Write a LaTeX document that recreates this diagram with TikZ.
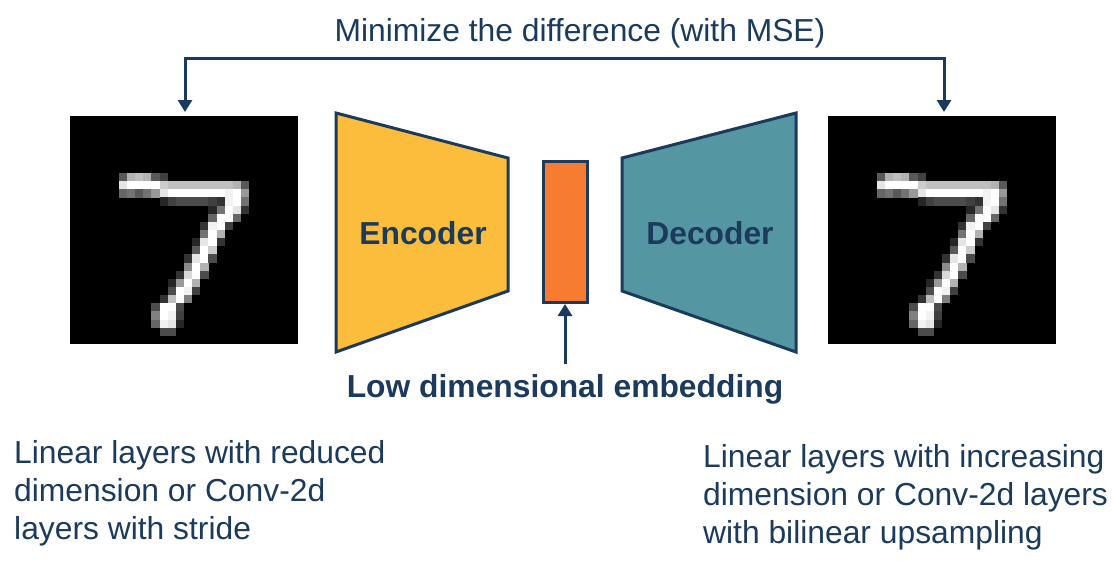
\documentclass[tikz,border=0pt]{standalone}
\usepackage{fontspec}
\setmainfont{Liberation Sans}
\usetikzlibrary{arrows.meta}
\definecolor{navy}{HTML}{1B3A5C}
\definecolor{enc}{HTML}{FBBD3B}
\definecolor{emb}{HTML}{F77B30}
\definecolor{dec}{HTML}{5596A3}
\newcommand{\mnistseven}{%
\fill[black] (0,0) rectangle (228,228);
\foreach \r/\c/\g in {7/6/35,7/7/70,7/8/75,7/9/70,7/10/35,7/11/25,
8/6/90,8/7/100,8/8/100,8/9/100,8/10/100,8/11/80,8/12/75,8/13/75,8/14/75,8/15/75,8/16/75,8/17/75,8/18/75,8/19/75,8/20/70,8/21/35,
9/6/40,9/7/45,9/8/35,9/9/45,9/10/60,9/11/90,9/12/100,9/13/100,9/14/100,9/15/100,9/16/100,9/17/100,9/18/100,9/19/95,9/20/100,9/21/60,
10/11/15,10/12/25,10/13/30,10/14/30,10/15/30,10/16/30,10/17/25,10/18/20,10/19/95,10/20/100,10/21/45,
11/17/15,11/18/45,11/19/100,11/20/90,11/21/20,
12/17/40,12/18/100,12/19/100,12/20/40,
13/16/20,13/17/95,13/18/100,13/19/25,
14/16/45,14/17/100,14/18/70,
15/15/15,15/16/90,15/17/100,15/18/20,
16/15/35,16/16/100,16/17/80,
17/14/20,17/15/90,17/16/100,17/17/30,
18/14/55,18/15/100,18/16/70,
19/13/20,19/14/85,19/15/100,19/16/30,
20/12/15,20/13/60,20/14/100,20/15/70,
21/12/30,21/13/100,21/14/95,21/15/25,
22/11/20,22/12/75,22/13/100,22/14/50,
23/10/30,23/11/100,23/12/100,23/13/30,
24/10/50,24/11/100,24/12/95,24/13/25,
25/10/40,25/11/95,25/12/90,25/13/15,
26/11/30,26/12/30}
{\fill[white!\g!black] (\c*8.14,\r*8.14) rectangle ++(8.3,8.3);}
}
\begin{document}
\begin{tikzpicture}[x=1pt,y=-1pt,
  txt/.style={text=navy,font=\fontsize{31.8}{38}\selectfont,inner sep=0},
  btxt/.style={text=navy,font=\fontsize{31.8}{36}\selectfont\bfseries,inner sep=0},
  shp/.style={draw=navy,line width=3pt,line join=miter},
  arr/.style={draw=navy,line width=3pt,-{Triangle[length=12pt,width=14pt]}}]
\useasboundingbox (0,0) rectangle (1113,565);
\begin{scope}[shift={(70,116)}]\mnistseven\end{scope}
\begin{scope}[shift={(828,116)}]\mnistseven\end{scope}
\node[txt] (title) at (580,33) {Minimize the difference (with MSE)};
\coordinate (tl) at (185,58);
\coordinate (tr) at (944,58);
\coordinate (il) at (185,112);
\coordinate (ir) at (944,112);
\draw[arr] (tr) -- (tl) -- (il);
\draw[arr] (tl) -- (tr) -- (ir);
\filldraw[shp,fill=enc] (336,113) -- (508,158) -- (508,291) -- (336,352) -- cycle;
\filldraw[shp,fill=dec] (622,158) -- (796,113) -- (796,352) -- (622,291) -- cycle;
\node[btxt] (encl) at (423,233) {Encoder};
\node[btxt] (decl) at (710,233) {Decoder};
\node[shp,fill=emb,minimum width=44pt,minimum height=141pt,inner sep=0] (emb) at (565,232) {};
\node[btxt] (lde) at (565,389) {Low dimensional embedding};
\draw[arr] (565,364) -- (emb.south);
\node[txt,align=left,anchor=north west,font=\fontsize{31.8}{38}\selectfont] (lt) at (14,440) {Linear layers with reduced\\dimension or Conv-2d\\layers with stride};
\node[txt,align=left,anchor=north west,font=\fontsize{31.8}{38}\selectfont] (rt) at (703,444) {Linear layers with increasing\\dimension or Conv-2d layers\\with bilinear upsampling};
\end{tikzpicture}
\end{document}
